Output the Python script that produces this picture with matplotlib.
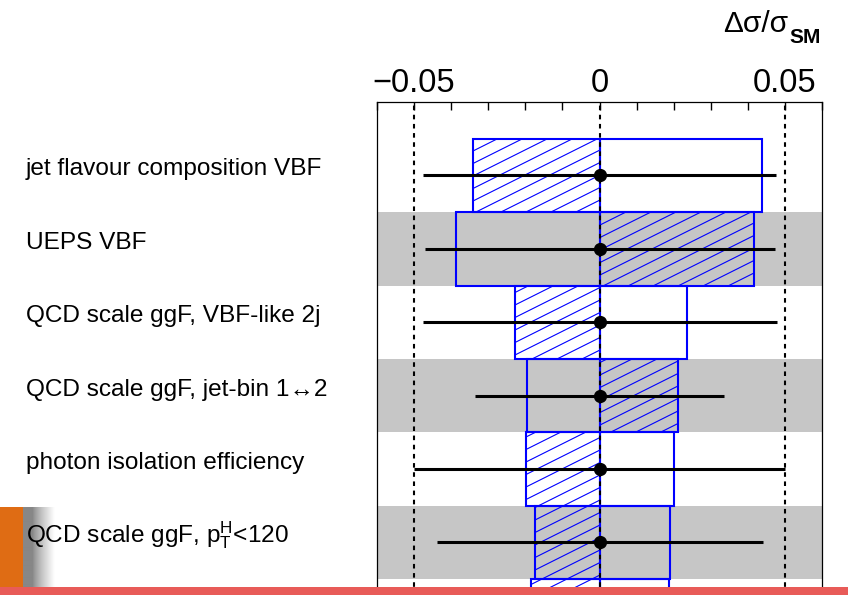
import numpy as np
import matplotlib
matplotlib.use('Agg')
import matplotlib.pyplot as plt
import matplotlib.hatch as mhatch
from matplotlib.path import Path
from matplotlib.patches import Rectangle
from matplotlib.transforms import blended_transform_factory

plt.rcParams['font.family'] = ['Liberation Sans', 'DejaVu Sans']
plt.rcParams['mathtext.fontset'] = 'custom'
plt.rcParams['mathtext.rm'] = 'Liberation Sans'
plt.rcParams['mathtext.it'] = 'Liberation Sans:italic'
plt.rcParams['mathtext.bf'] = 'Liberation Sans:bold'
plt.rcParams['hatch.linewidth'] = 0.8


# ROOT style hatching is flatter than matplotlib's 45 degree '/'
class ShallowHatch(mhatch.HatchPatternBase):
    def __init__(self, hatch, density):
        self.num_lines = hatch.count('/') * 4
        if self.num_lines:
            self.num_vertices = (self.num_lines + self.num_lines // 2 + 1) * 2
        else:
            self.num_vertices = 0

    def set_vertices_and_codes(self, vertices, codes):
        n = self.num_lines
        cs = np.arange(-(n // 2), n + 1) / n
        vertices[0::2, 0] = 0
        vertices[0::2, 1] = cs
        vertices[1::2, 0] = 1
        vertices[1::2, 1] = cs + 0.5
        codes[0::2] = Path.MOVETO
        codes[1::2] = Path.LINETO


if hasattr(mhatch, '_hatch_types') and mhatch.NorthEastHatch in mhatch._hatch_types:
    mhatch._hatch_types[mhatch._hatch_types.index(mhatch.NorthEastHatch)] = ShallowHatch

# nuisance parameters, top to bottom (last row is cut off by the page)
labels = ['jet flavour composition VBF',
          'UEPS VBF',
          'QCD scale ggF, VBF-like 2j',
          'QCD scale ggF, jet-bin 1\u21942',
          'photon isolation efficiency',
          r'QCD scale ggF, p$_{\mathrm{T}}^{\mathrm{H}}$<120',
          '']
# impact on cross section: open box and hatched box
impact_open = [0.0439, -0.0387, 0.0236, -0.0195, 0.0202, 0.0190, 0.0188]
impact_hatch = [-0.0340, 0.0417, -0.0228, 0.0213, -0.0199, -0.0175, -0.0185]
# pull and its error
pull = [0, 0, 0, 0, 0, 0, 0]
pull_lo = [0.0476, 0.0471, 0.0477, 0.0335, 0.0500, 0.0439, 0.0440]
pull_hi = [0.0476, 0.0474, 0.0478, 0.0337, 0.0500, 0.0441, 0.0440]

W, H = 848, 595
row_px = 73.4
top_px = 102
ylim = (6.6, -1.0)
ax_h = (ylim[0] - ylim[1]) * row_px

fig = plt.figure(figsize=(W / 100, H / 100), dpi=100)
ax = fig.add_axes([377 / W, 1 - (top_px + ax_h) / H, 445 / W, ax_h / H])

y = np.arange(len(impact_open))

# alternating grey bands
for i in range(1, len(y) + 1, 2):
    ax.axhspan(i - 0.5, i + 0.5, color='#c6c6c6', lw=0, zorder=0)

ax.barh(y, impact_open, height=1.0, facecolor='none', edgecolor='blue',
        linewidth=1.5, zorder=2)
ax.barh(y, impact_hatch, height=1.0, facecolor='none', edgecolor='blue',
        hatch='//', linewidth=1.5, zorder=2)

for xv in (-0.05, 0, 0.05):
    ax.axvline(xv, color='k', lw=1.5, ls=(0, (2.2, 2.2)), zorder=3)

ax.errorbar(pull, y, xerr=[pull_lo, pull_hi], fmt='o', color='k',
            ms=8.5, lw=2.2, capsize=0, zorder=4)

ax.set_xlim(-0.06, 0.06)
ax.set_ylim(ylim)
ax.xaxis.tick_top()
ax.set_xticks([-0.05, 0, 0.05])
ax.set_xticklabels(['\u22120.05', '0', '0.05'])
ax.set_xticks(np.arange(-0.06, 0.0601, 0.01), minor=True)
ax.tick_params(axis='x', which='both', direction='in', top=True, bottom=False,
               length=6, width=1, labelsize=23.5, pad=2)
ax.set_yticks([])
for sp in ax.spines.values():
    sp.set_linewidth(0.9)

trans = blended_transform_factory(fig.transFigure, ax.transData)
for yi, lab in zip(y, labels):
    ax.text(26 / W, yi, lab, transform=trans, ha='left', va='baseline',
            fontsize=17.6, clip_on=False)

fig.text(788 / W, 1 - 32 / H, '\u0394\u03c3/\u03c3', ha='right', va='baseline', fontsize=21.5)
fig.text(789 / W, 1 - 43 / H, 'SM', ha='left', va='baseline', fontsize=15, fontweight='bold')

# page overlays seen in the screenshot
shade = fig.add_axes([23 / W, 8 / H, 32 / W, 80 / H])
shade.set_zorder(-1)
g = np.linspace(0, 1, 64)
g = 0.53 + 0.47 * np.clip((g - 0.3) / 0.7, 0, 1) ** 0.8
shade.imshow(g[None, :], cmap='gray', vmin=0, vmax=1, aspect='auto')
shade.axis('off')
fig.add_artist(Rectangle((0, 8 / H), 23 / W, 80 / H, transform=fig.transFigure,
                         color='#df6c14', lw=0, zorder=20))
fig.add_artist(Rectangle((0, 0), 1, 8 / H, transform=fig.transFigure,
                         color='#e85b58', lw=0, zorder=20))

fig.savefig('out.png', dpi=100)
